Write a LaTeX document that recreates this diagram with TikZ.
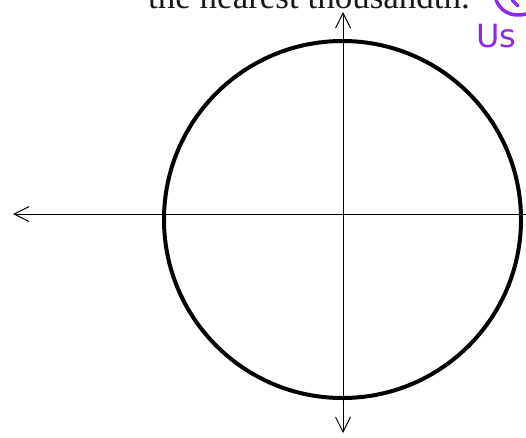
\documentclass[tikz,border=0pt]{standalone}
\usepackage{fontspec}
\setmainfont{Liberation Serif}
\newfontfamily\handfont{DejaVu Sans}
\usepackage{xcolor}
\usetikzlibrary{arrows.meta}
\definecolor{ink}{RGB}{140,40,230}

\begin{document}
\begin{tikzpicture}[x=1pt, y=-1pt,
    >={Straight Barb[length=15pt, width=15pt]},
    axis/.style={line width=1pt},
    ring/.style={draw, circle, minimum size=357pt, inner sep=0pt,
                 line width=4pt},
    note/.style={text=ink, font=\handfont\fontsize{32}{32}\selectfont},
    pen/.style={ink, line width=3.5pt, line cap=round},
  ]
  \useasboundingbox (0,0) rectangle (526,437);
  \clip (0,0) rectangle (526,437);

  % cut-off heading and pen marks
  \node[anchor=base west, inner sep=0pt, text=black!90,
        font=\fontsize{35}{40}\selectfont] (title) at (148,8)
    {the nearest thousandth.};
  \node[note, anchor=base west, inner sep=0pt] (us) at (476,47) {Us};
  \draw[pen] (496,0) .. controls (500,10) and (510,18) .. (526,14);
  \draw[pen] (512,0) -- (518,6);

  % circle and axes
  \coordinate (west)  at (13,214);
  \coordinate (east)  at (526,214);
  \coordinate (north) at (343,12);
  \coordinate (south) at (343,433);
  \node[ring] (circ) at (342.5,219.5) {};
  \draw[axis, ->]  (east)  -- (west);
  \draw[axis, <->] (south) -- (north);
\end{tikzpicture}
\end{document}
